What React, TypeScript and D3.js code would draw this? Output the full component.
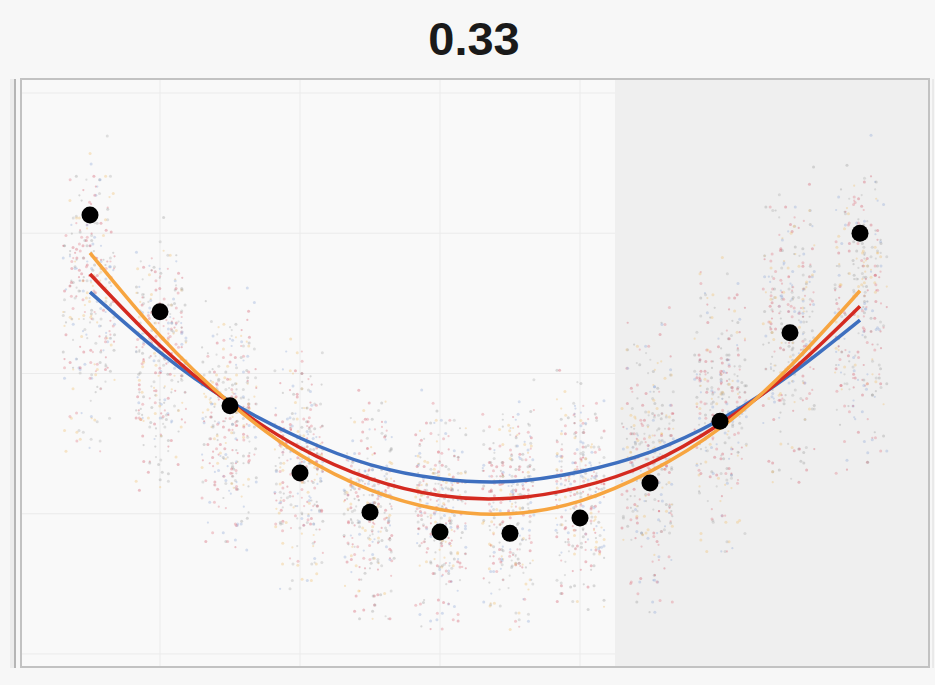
import React from 'react'
import * as d3 from 'd3'

// bin index 1..12
const bins = [1, 2, 3, 4, 5, 6, 7, 8, 9, 10, 11, 12]
const binMeans = [3.13, 2.44, 1.77, 1.29, 1.01, 0.87, 0.86, 0.97, 1.22, 1.66, 2.29, 3.0]
const fitBlue = [2.58, 2.15, 1.8, 1.54, 1.35, 1.25, 1.23, 1.3, 1.44, 1.67, 1.99, 2.38]
const fitRed = [2.71, 2.2, 1.79, 1.47, 1.25, 1.13, 1.11, 1.19, 1.36, 1.64, 2.01, 2.48]
const fitOrange = [2.86, 2.27, 1.79, 1.42, 1.17, 1.03, 1.0, 1.09, 1.3, 1.61, 2.05, 2.59]
// spread of the raw points in each bin (low, high)
const cloudLow = [1.54, 1.25, 0.82, 0.54, 0.32, 0.25, 0.25, 0.39, 0.39, 0.82, 1.32, 1.39]
const cloudHigh = [3.61, 3.04, 2.54, 2.18, 1.82, 1.82, 1.89, 1.96, 2.39, 2.75, 3.39, 3.61]
const title = '0.33'

// hand-typed jitter pattern for the raw points
const jitterX = [-0.82, 0.35, -0.12, 0.91, -0.55, 0.18, 0.67, -0.94, 0.04, -0.38, 0.76, -0.21, 0.52, -0.69, 0.27, 0.88, -0.47, 0.11, -0.77, 0.61, -0.05, 0.43, -0.88, 0.22, -0.31, 0.97, -0.63, 0.08, 0.71, -0.16, 0.39, -0.92, 0.57, -0.27, 0.14, -0.72, 0.83, -0.41, 0.31, -0.58, 0.02, 0.66, -0.85, 0.48, -0.09, 0.24, -0.66, 0.93, -0.34, 0.12, -0.51, 0.79, -0.19, 0.45, -0.98, 0.58, -0.03, 0.36, -0.74, 0.19]
const jitterY = [0.07, 0.93, 0.41, 0.22, 0.68, 0.15, 0.54, 0.36, 0.81, 0.02, 0.47, 0.63, 0.29, 0.88, 0.11, 0.72, 0.33, 0.59, 0.96, 0.25, 0.44, 0.78, 0.18, 0.51, 0.67, 0.39, 0.05, 0.85, 0.31, 0.74, 0.13, 0.57, 0.91, 0.46, 0.27, 0.62, 0.09, 0.83, 0.38, 0.53, 0.7, 0.16, 0.49, 0.97, 0.34, 0.6, 0.21, 0.76, 0.43, 0.89, 0.12, 0.65, 0.3, 0.04, 0.55, 0.8, 0.24, 0.69, 0.37, 0.99]
const cloudColors = ['#e07a86', '#9a9a9a', '#f0c070', '#8fa8d8', '#d45a6a', '#b0b0b0']

const W = 935
const H = 685
const left = 21
const right = 929
const top = 79
const bottom = 668

function App() {
  const x = d3.scaleLinear().domain([0, 13]).range([left - 1, right + 1])
  const y = d3.scaleLinear().domain([-0.1, 4.1]).range([bottom, top])

  const line = (vals: number[]) =>
    d3
      .line<number>()
      .x((d, i) => x(bins[i]))
      .y((d) => y(d))
      .curve(d3.curveNatural)(vals) as string

  const n = jitterX.length
  const cloud: {cx: number; cy: number; c: string; r: number}[] = []
  bins.forEach((b, col) => {
    const mid = (cloudLow[col] + cloudHigh[col]) / 2
    const span = cloudHigh[col] - cloudLow[col]
    for (let k = 0; k < 5; k++) {
      for (let i = 0; i < n; i++) {
        const jx = jitterX[(i + k * 13 + col * 7) % n]
        const jy1 = jitterY[(i + k * 29 + col * 11) % n]
        const jy2 = jitterY[(i * 7 + k * 17 + col * 5 + 3) % n]
        const jx2 = jitterX[(i * 11 + k * 23 + col * 3 + 5) % n]
        cloud.push({
          cx: x(b + jx * 0.36 + jx2 * 0.05),
          cy: y(mid + (jy1 + jy2 - 1) * span * 0.6),
          c: cloudColors[(i + k * 2 + col) % cloudColors.length],
          r: k % 2 ? 1.1 : 1.5,
        })
      }
    }
  })

  const xGrid = [2, 4, 6, 8]
  const yGrid = [0, 1, 2, 3, 4]

  return (
    <svg width={W} height={H} style={{position: 'absolute', left: 0, top: 0, background: '#f7f7f7'}}>
      <text x={474} y={55} textAnchor="middle" fontFamily="Liberation Sans, Arial, sans-serif" fontWeight="bold" fontSize={47} fill="#1a1a1a">
        {title}
      </text>
      {/* outer left bar */}
      <rect x={10} y={top} width={6} height={bottom - top} fill="#ececec" />
      <line x1={15} x2={15} y1={top} y2={bottom} stroke="#b5b5b5" strokeWidth={2} />
      {/* plot area */}
      <rect x={left} y={top} width={right - left} height={bottom - top} fill="#f9f9f9" />
      <rect x={x(8.5)} y={top} width={right - x(8.5)} height={bottom - top} fill="#efefef" />
      {xGrid.map((g) => (
        <line key={'gx' + g} x1={x(g)} x2={x(g)} y1={top} y2={bottom} stroke="#ebebeb" strokeWidth={1} />
      ))}
      {yGrid.map((g) => (
        <line key={'gy' + g} x1={left} x2={x(8.5)} y1={y(g)} y2={y(g)} stroke="#ebebeb" strokeWidth={1} />
      ))}
      <g>
        {cloud.map((p, i) => (
          <circle key={i} cx={p.cx} cy={p.cy} r={p.r} fill={p.c} opacity={0.36} />
        ))}
      </g>
      <path d={line(fitBlue)} fill="none" stroke="#3e6fbf" strokeWidth={3.5} />
      <path d={line(fitRed)} fill="none" stroke="#d42a20" strokeWidth={3.5} />
      <path d={line(fitOrange)} fill="none" stroke="#f7a540" strokeWidth={3.5} />
      {binMeans.map((v, i) => (
        <circle key={'m' + i} cx={x(bins[i])} cy={y(v)} r={8.5} fill="#000" />
      ))}
      <rect x={left} y={top} width={right - left} height={bottom - top - 1} fill="none" stroke="#c2c2c2" strokeWidth={2} />
      <line x1={933} x2={933} y1={top} y2={bottom} stroke="#dcdcdc" strokeWidth={1} />
    </svg>
  )
}

export default App
